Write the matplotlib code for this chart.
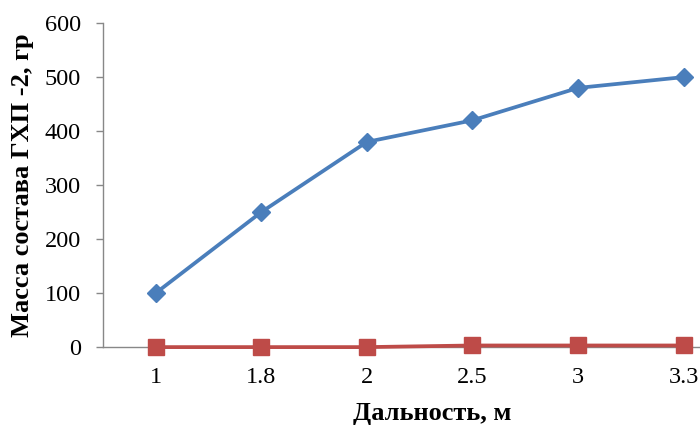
import matplotlib
matplotlib.use("Agg")
import matplotlib.pyplot as plt

# Data
distances = ["1", "1.8", "2", "2.5", "3", "3.3"]
mass_series_1 = [100, 250, 380, 420, 480, 500]
mass_series_2 = [0, 0, 0, 3, 3, 3]
y_ticks = [0, 100, 200, 300, 400, 500, 600]

plt.rcParams["font.family"] = ["Liberation Serif", "DejaVu Serif"]

fig = plt.figure(figsize=(7.0, 4.28), dpi=100)
ax = fig.add_axes([0.147, 0.189, 0.905, 0.757])

x = list(range(len(distances)))
ax.plot(x, mass_series_1, color="#4A7EBB", lw=2.7, marker="D", markersize=9,
        markerfacecolor="#4A7EBB", markeredgecolor="#4A7EBB", zorder=3)
ax.plot(x, mass_series_2, color="#BE4B48", lw=2.7, marker="s", markersize=11,
        markerfacecolor="#BE4B48", markeredgecolor="#BE4B48", zorder=3,
        clip_on=False)

ax.set_xlim(-0.5, len(distances) - 0.5)
ax.set_ylim(0, 600)
ax.set_yticks(y_ticks)
ax.set_xticks(x)
ax.set_xticklabels(distances)

for side in ("top", "right"):
    ax.spines[side].set_visible(False)
for side in ("left", "bottom"):
    ax.spines[side].set_color("#888888")
    ax.spines[side].set_linewidth(1.0)

ax.tick_params(axis="y", direction="out", length=5, width=1, color="#888888",
               labelsize=17.5, pad=11)
ax.tick_params(axis="x", length=0, labelsize=17.5, pad=14)

ax.set_ylabel("Масса состава ГХП -2, гр", fontsize=19, fontweight="bold")
ax.set_xlabel("Дальность, м", fontsize=19, fontweight="bold")
ax.yaxis.set_label_coords(-0.108, 0.5)
ax.xaxis.set_label_coords(0.52, -0.17)

fig.savefig("out.png", dpi=100)
